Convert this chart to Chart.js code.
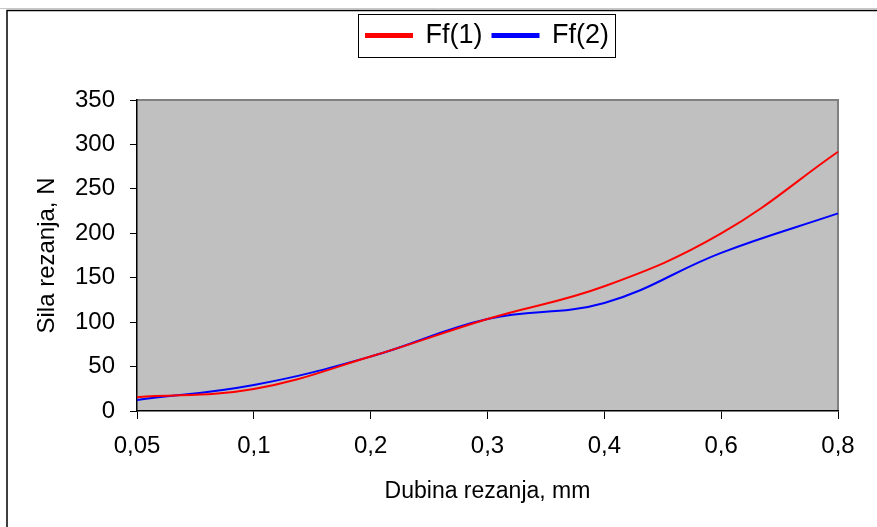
<!DOCTYPE html>
<html>
<head>
<meta charset="utf-8">
<script src="https://cdn.jsdelivr.net/npm/chart.js@4"></script>
<style>
  html, body { margin: 0; padding: 0; background: #fff; }
  #wrap { width: 877px; height: 527px; }
</style>
</head>
<body>
<div id="wrap"><canvas id="grafica"></canvas></div>
<script>
// datos
const dubina = ["0,05", "0,1", "0,2", "0,3", "0,4", "0,6", "0,8"]
const ff1 = [15.5, 24.8, 61.3, 103.5, 140.4, 199.8, 291.7]
const ff2 = [12.4, 29.3, 61.3, 103.5, 121.6, 178, 222.4]
const yTicks = [0, 50, 100, 150, 200, 250, 300, 350]

const fuente = "'Liberation Sans', Arial, sans-serif"

// fondo gris del area y marco exterior
const marcoPlugin = {
    id: "marco",
    beforeDraw(chart){
        const ctx = chart.ctx
        const a = chart.chartArea
        ctx.save()
        ctx.fillStyle = "#c0c0c0"
        ctx.fillRect(a.left, a.top, a.right - a.left, a.bottom - a.top)
        ctx.strokeStyle = "#808080"
        ctx.lineWidth = 2
        ctx.beginPath()
        ctx.moveTo(a.left, a.top)
        ctx.lineTo(a.right, a.top)
        ctx.lineTo(a.right, a.bottom)
        ctx.stroke()
        // borde exterior
        ctx.strokeStyle = "#c8c8c8"
        ctx.lineWidth = 1
        ctx.beginPath()
        ctx.moveTo(0, 8.5)
        ctx.lineTo(chart.width, 8.5)
        ctx.stroke()
        ctx.strokeStyle = "#000"
        ctx.lineWidth = 1.5
        ctx.beginPath()
        ctx.moveTo(7, chart.height)
        ctx.lineTo(7, 10.5)
        ctx.lineTo(chart.width, 10.5)
        ctx.stroke()
        ctx.restore()
    },
    afterDraw(chart){
        // recuadro de la leyenda
        const boxes = chart.legend.legendHitBoxes
        if (!boxes || !boxes.length) return
        let l = Infinity, r = -Infinity, t = Infinity, b = -Infinity
        boxes.forEach(h => {
            l = Math.min(l, h.left); r = Math.max(r, h.left + h.width)
            t = Math.min(t, h.top); b = Math.max(b, h.top + h.height)
        })
        const ctx = chart.ctx
        ctx.save()
        ctx.strokeStyle = "#000"
        ctx.lineWidth = 1
        ctx.strokeRect(Math.round(l - 8) + 0.5, 14.5, Math.round(r - l + 14), 43)
        ctx.restore()
    }
}

const config = {
    type: "line",
    data: {
        labels: dubina,
        datasets: [{
            label: "Ff(1)",
            data: ff1,
            borderColor: "#ff0000",
            backgroundColor: "#ff0000",
            borderWidth: 2,
            pointRadius: 0,
            tension: 0.4
        }, {
            label: "Ff(2)",
            data: ff2,
            borderColor: "#0000ff",
            backgroundColor: "#0000ff",
            borderWidth: 2,
            pointRadius: 0,
            tension: 0.4
        }]
    },
    options: {
        responsive: true,
        maintainAspectRatio: false,
        animation: false,
        layout: { padding: { top: 12, right: 39, left: 0, bottom: 0 } },
        plugins: {
            legend: {
                position: "top",
                fullSize: false,
                labels: {
                    color: "#000",
                    boxWidth: 46,
                    boxHeight: 3,
                    padding: 10,
                    font: { family: fuente, size: 27 }
                }
            },
            subtitle: {
                display: true,
                text: " ",
                weight: 500,
                padding: { top: 0, bottom: 17 },
                font: { size: 20 }
            },
            tooltip: { enabled: false }
        },
        scales: {
            x: {
                offset: false,
                grid: { display: true, drawOnChartArea: false, drawTicks: true, tickLength: 8, color: "#000" },
                border: { display: true, color: "#000", width: 1.5 },
                ticks: { color: "#000", padding: 13, maxRotation: 0, autoSkip: false, font: { family: fuente, size: 24 } },
                title: { display: true, text: "Dubina rezanja, mm", color: "#000", padding: { top: 0, bottom: 22 }, font: { family: fuente, size: 23 } },
                afterFit(scale){ scale.height = 116 }
            },
            y: {
                min: 0,
                max: 350,
                afterBuildTicks(scale){ scale.ticks = yTicks.map(v => ({ value: v })) },
                grid: { display: true, drawOnChartArea: false, drawTicks: true, tickLength: 7, color: "#000" },
                border: { display: true, color: "#000", width: 1.5 },
                ticks: { color: "#000", padding: 15, font: { family: fuente, size: 24 } },
                title: { display: true, text: "Sila rezanja, N", color: "#000", padding: { top: 33, bottom: 0 }, font: { family: fuente, size: 24 } },
                afterFit(scale){ scale.width = 137 }
            }
        }
    },
    plugins: [marcoPlugin]
}

new Chart(document.getElementById("grafica"), config)
</script>
</body>
</html>
